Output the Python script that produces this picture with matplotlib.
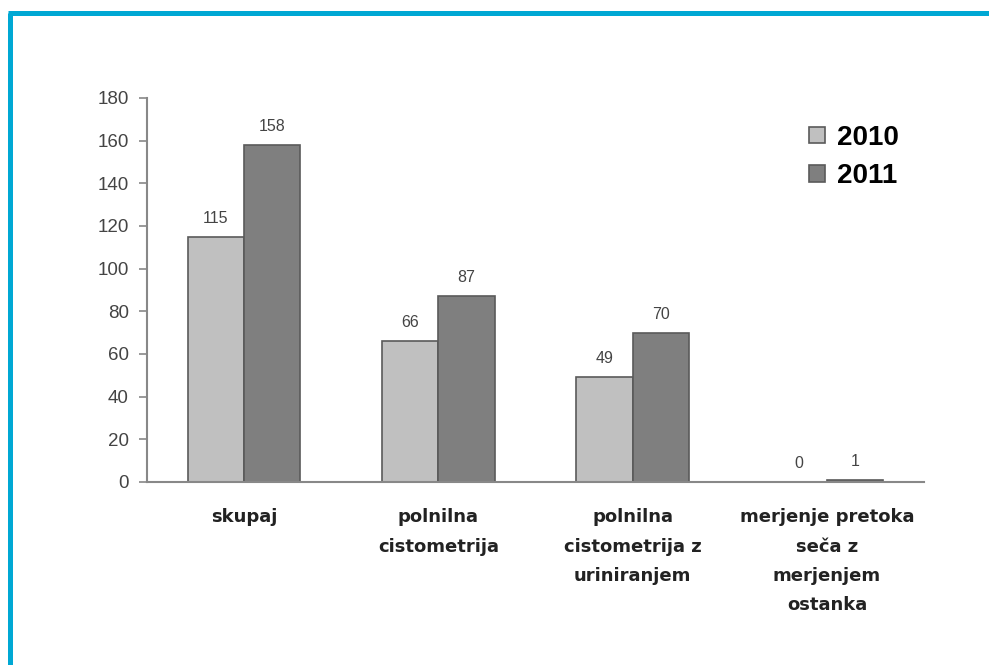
import numpy as np
import matplotlib.pyplot as plt
from matplotlib.lines import Line2D

kategorije = ['skupaj', 'polnilna\ncistometrija', 'polnilna\ncistometrija z\nuriniranjem',
              'merjenje pretoka\nseča z\nmerjenjem\nostanka']
leta = ['2010', '2011']
v2010 = [115, 66, 49, 0]
v2011 = [158, 87, 70, 1]

barve = ['#c0c0c0', '#7f7f7f']
rob = '#5a5a5a'

fig = plt.figure(figsize=(9.89, 6.65), dpi=100)
ax = fig.add_axes([147 / 989, 1 - 482 / 665, (924 - 147) / 989, (482 - 98) / 665])

x = np.arange(len(kategorije))
w = 0.29
for i, (vals, leto) in enumerate(zip([v2010, v2011], leta)):
    pos = x + (i - 0.5) * w
    ax.bar(pos, vals, width=w, color=barve[i], edgecolor=rob, linewidth=1.2, label=leto)
    for px, v in zip(pos, vals):
        ax.annotate(str(v), (px, v), xytext=(0, 8), textcoords='offset points',
                    ha='center', va='bottom', fontsize=11.5, color='#444444',
                    family='Liberation Sans')

ax.set_xlim(-0.5, 3.5)
ax.set_ylim(0, 180)
ax.set_yticks(range(0, 181, 20))
ax.tick_params(axis='y', length=6, width=1.2, color='#888888', labelsize=13.5,
               labelcolor='#444444', pad=7)
for lab in ax.get_yticklabels():
    lab.set_family('Liberation Sans')
ax.set_xticks(x)
ax.set_xticklabels(kategorije, fontsize=13, fontweight='bold', color='#222222',
                   linespacing=1.8)
ax.tick_params(axis='x', length=0, pad=19)

for s in ['top', 'right']:
    ax.spines[s].set_visible(False)
for s in ['left', 'bottom']:
    ax.spines[s].set_color('#888888')
    ax.spines[s].set_linewidth(1.5)

ax.legend(loc='upper right', bbox_to_anchor=(1.0, 0.995), frameon=False,
          prop={'family': 'Liberation Sans', 'weight': 'bold', 'size': 20},
          handlelength=0.55, handleheight=0.55, handletextpad=0.45, labelspacing=0.45)

# modri okvir zgoraj in levo
fig.add_artist(Line2D([9.5 / 989, 9.5 / 989], [0, 1 - 12.5 / 665], color='#00a8d4',
                      linewidth=3.6, transform=fig.transFigure, solid_capstyle='butt'))
fig.add_artist(Line2D([8 / 989, 1], [1 - 12.5 / 665, 1 - 12.5 / 665], color='#00a8d4',
                      linewidth=3.6, transform=fig.transFigure, solid_capstyle='butt'))

fig.savefig('out.png', dpi=100)
